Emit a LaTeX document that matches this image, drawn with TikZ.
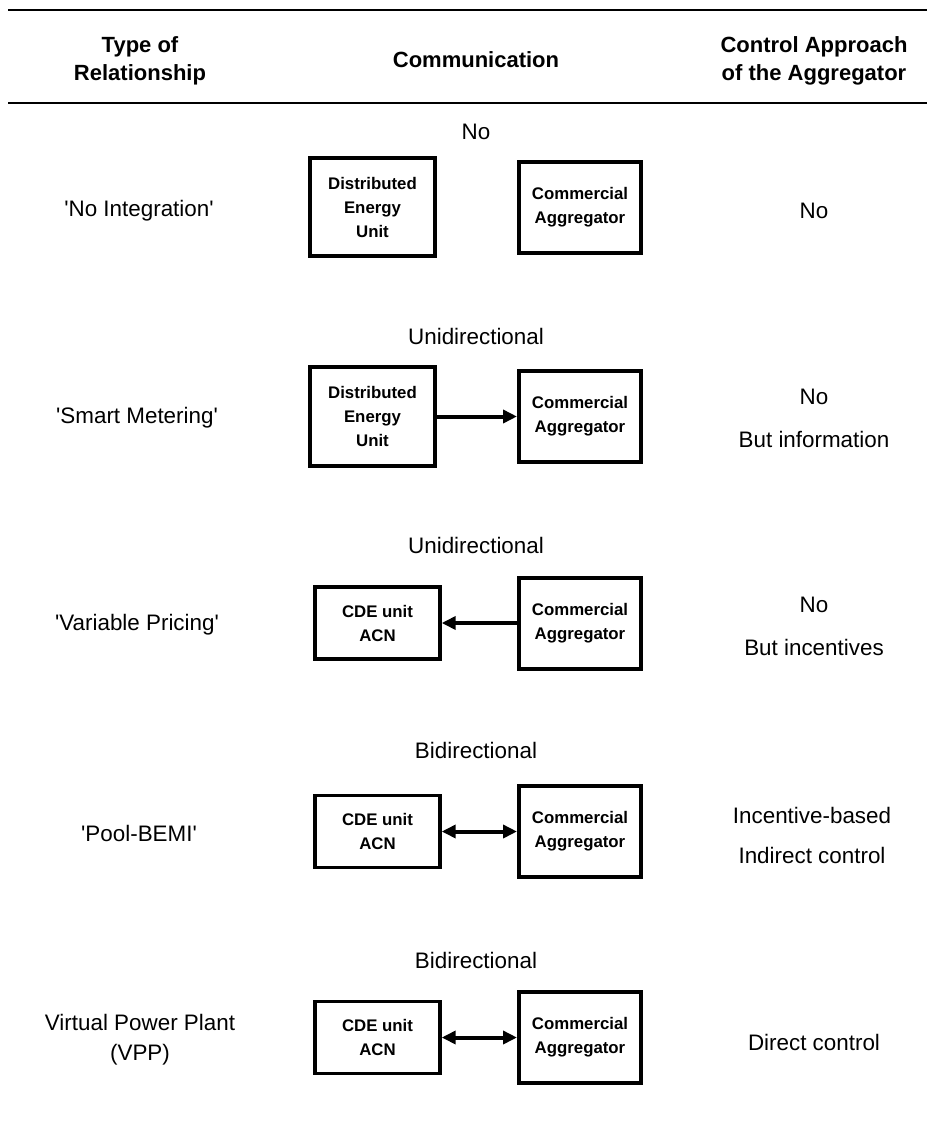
\documentclass[tikz,border=0pt]{standalone}
\usepackage{fontspec}
\setmainfont{Liberation Sans}
\usetikzlibrary{arrows.meta}
\begin{document}
\begin{tikzpicture}[x=0.5pt,y=-0.5pt,
  txt/.style={font=\fontsize{11.2}{14}\selectfont, inner sep=0pt, align=center},
  head/.style={font=\bfseries\fontsize{11}{14}\selectfont, inner sep=0pt, align=center},
  box/.style={draw, line width=2pt, font=\bfseries\fontsize{8.4}{12}\selectfont,
    align=center, inner sep=0pt, minimum width=62.5pt},
  deu/.style={box, minimum height=49pt},
  agg/.style={box, minimum width=61pt, minimum height=45.5pt},
  cde/.style={box, minimum height=36pt, line width=1.7pt},
  tip/.tip={Triangle[length=7pt,width=6.5pt]},
  link/.style={line width=2pt, -tip},
  biglink/.style={line width=2pt, tip-tip},
  rule/.style={line width=1.1pt}]
\useasboundingbox (0,0) rectangle (927,1138);

% table rules
\coordinate (r1a) at (8,10);  \coordinate (r1b) at (927,10);
\coordinate (r2a) at (8,103); \coordinate (r2b) at (927,103);
\draw[rule] (r1a) -- (r1b);
\draw[rule] (r2a) -- (r2b);

% column headers
\node[head] (h1) at (140,61) {Type of\\Relationship};
\node[head] (h2) at (476,60) {Communication};
\node[head] (h3) at (814,61) {Control Approach\\of the Aggregator};

% row 1: no integration
\node[txt] (c1) at (476,132) {No};
\node[txt] (t1) at (139,211) {\textquotesingle No Integration\textquotesingle};
\node[txt] (a1) at (814,211) {No};
\node[deu] (u1) at (372.5,207.5) {Distributed\\Energy\\Unit};
\node[agg] (g1) at (580,207.5) {Commercial\\Aggregator};

% row 2: smart metering
\node[txt] (c2) at (476,336) {Unidirectional};
\node[txt] (t2) at (137,418) {\textquotesingle Smart Metering\textquotesingle};
\node[txt, font=\fontsize{11.2}{21.5}\selectfont] (a2) at (814,418.5) {No\\But information};
\node[deu] (u2) at (372.5,416.5) {Distributed\\Energy\\Unit};
\node[agg] (g2) at (580,416.5) {Commercial\\Aggregator};
\draw[link] (u2.east) -- (g2.west);

% row 3: variable pricing
\node[txt] (c3) at (476,545) {Unidirectional};
\node[txt] (t3) at (137,625) {\textquotesingle Variable Pricing\textquotesingle};
\node[txt, font=\fontsize{11.2}{21.5}\selectfont] (a3) at (814,626.5) {No\\But incentives};
\node[cde] (u3) at (377.5,623) {CDE unit\\ACN};
\node[agg] (g3) at (580,623) {Commercial\\Aggregator};
\draw[link] (g3.west) -- (u3.east);

% row 4: pool-BEMI
\node[txt] (c4) at (476,750) {Bidirectional};
\node[txt] (t4) at (139,833) {\textquotesingle Pool-BEMI\textquotesingle};
\node[txt, font=\fontsize{11.2}{20}\selectfont] (a4) at (812,835) {Incentive-based\\Indirect control};
\node[cde] (u4) at (377.5,831.5) {CDE unit\\ACN};
\node[agg] (g4) at (580,831.5) {Commercial\\Aggregator};
\draw[biglink] (u4.east) -- (g4.west);

% row 5: virtual power plant
\node[txt] (c5) at (476,960) {Bidirectional};
\node[txt, font=\fontsize{11.2}{15}\selectfont] (t5) at (140,1040) {Virtual Power Plant\\(VPP)};
\node[txt] (a5) at (814,1042) {Direct control};
\node[cde] (u5) at (377.5,1037.5) {CDE unit\\ACN};
\node[agg] (g5) at (580,1037.5) {Commercial\\Aggregator};
\draw[biglink] (u5.east) -- (g5.west);
\end{tikzpicture}
\end{document}
